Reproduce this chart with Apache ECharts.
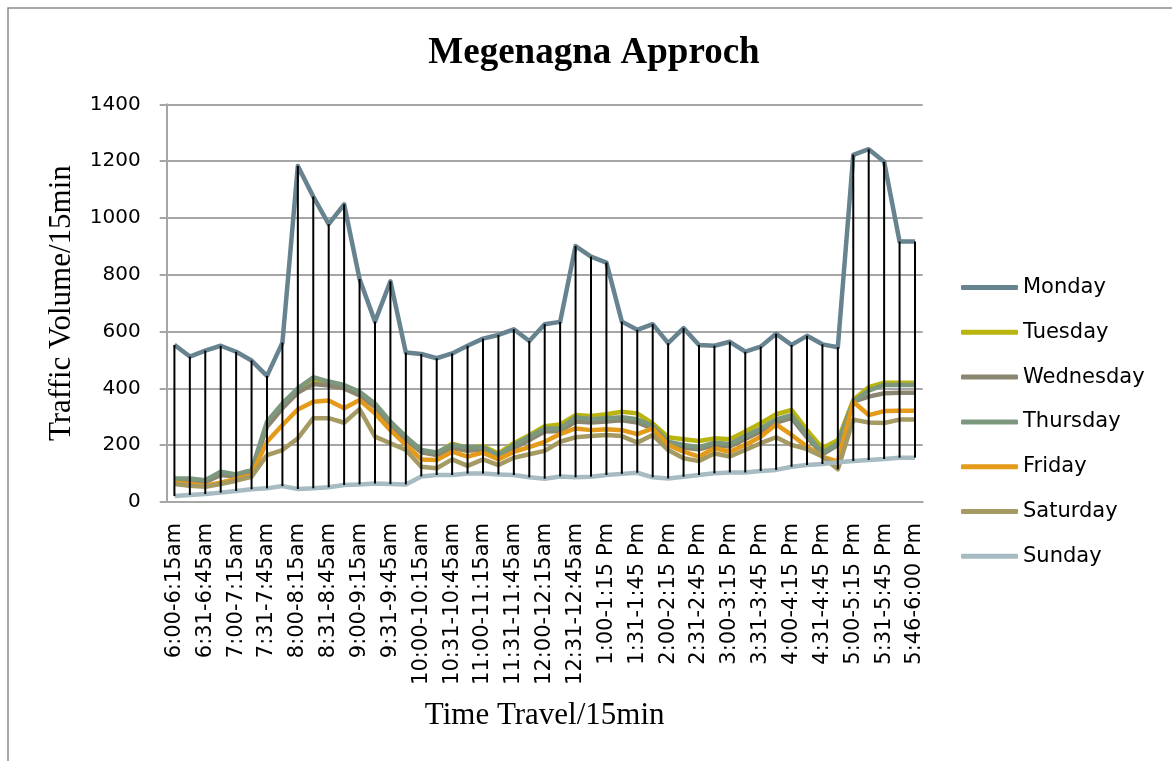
<!DOCTYPE html>
<html>
<head>
<meta charset="utf-8">
<title>Megenagna Approch</title>
<script src="https://cdn.jsdelivr.net/npm/echarts@6/dist/echarts.min.js"></script>
<style>
    html, body { margin: 0; padding: 0; background: #fff; }
    #chart { width: 1172px; height: 761px; }
</style>
</head>
<body>
<div id="chart"></div>
<script>
// 15 min slots, 6:00am - 6:00pm (49 rows as in the source table)
let times = [
    "6:00-6:15am","6:16-6:30am","6:31-6:45am","6:46-7:00am",
    "7:00-7:15am","7:16-7:30am","7:31-7:45am","7:46-8:00am",
    "8:00-8:15am","8:16-8:30am","8:31-8:45am","8:46-9:00am",
    "9:00-9:15am","9:16-9:30am","9:31-9:45am","9:46-10:00am",
    "10:00-10:15am","10:16-10:30am","10:31-10:45am","10:46-11:00am",
    "11:00-11:15am","11:16-11:30am","11:31-11:45am","11:46-12:00am",
    "12:00-12:15am","12:16-12:30am","12:31-12:45am","12:46-1:00 Pm",
    "1:00-1:15 Pm","1:16-1:30 Pm","1:31-1:45 Pm","1:46-2:00 Pm",
    "2:00-2:15 Pm","2:16-2:30 Pm","2:31-2:45 Pm","2:46-3:00 Pm",
    "3:00-3:15 Pm","3:16-3:30 Pm","3:31-3:45 Pm","3:46-4:00 Pm",
    "4:00-4:15 Pm","4:16-4:30 Pm","4:31-4:45 Pm","4:46-5:00 Pm",
    "5:00-5:15 Pm","5:16-5:30 Pm","5:31-5:45 Pm","5:46-6:00 Pm",
    "5:46-6:00 Pm"
];
let monday = [553,512,533,550,529,498,444,561,1183,1075,978,1048,785,635,777,526,
    521,506,523,550,575,588,608,567,626,634,901,864,843,635,606,626,
    559,612,553,550,564,529,547,592,553,585,555,545,1222,1242,1198,917,917];
let tuesday = [80,80,75,100,95,110,275,340,395,424,418,405,380,
    340,280,228,178,172,205,190,197,171,207,235,267,
    273,306,303,309,318,312,277,228,221,215,224,221,
    248,277,309,324,253,189,218,359,404,420,420,420];
let wednesday = [75,75,70,95,90,105,265,330,385,415,410,400,375,
    335,272,220,175,165,190,180,185,160,190,218,248,
    250,283,280,283,288,280,258,205,192,185,200,195,
    222,248,280,295,228,168,200,353,371,383,385,385];
let thursday = [83,83,77,107,97,113,283,347,400,439,424,412,388,
    347,283,230,183,174,201,193,193,165,201,230,259,
    259,298,291,295,298,291,268,212,201,193,209,204,
    232,259,291,306,236,174,207,353,392,412,412,412];
let friday = [68,63,57,68,81,95,212,271,326,353,357,330,359,
    312,253,201,150,148,177,160,174,150,177,193,212,
    239,259,253,256,253,239,259,201,177,160,189,177,
    201,230,273,236,195,160,142,353,306,320,321,321];
let saturday = [63,57,54,63,75,89,165,183,224,295,295,279,327,
    230,207,183,124,119,150,127,150,130,156,168,180,
    212,228,232,236,232,209,236,183,154,144,171,160,
    183,207,228,201,186,160,115,290,280,278,290,290];
let sunday = [21,25,28,33,39,45,48,56,46,48,52,60,62,65,63,62,
    90,95,95,100,100,97,95,87,82,90,87,89,95,99,103,87,
    83,89,95,101,104,104,109,113,124,130,134,140,144,148,151,156,156];
let days = ["Monday","Tuesday","Wednesday","Thursday","Friday","Saturday","Sunday"];
let yTicks = [0,200,400,600,800,1000,1200,1400];

let colors = ['#66838f','#bab40e','#8a8670','#7c9980','#e49b1a','#a59a62','#a7bbc3'];
let allSeries = [monday,tuesday,wednesday,thursday,friday,saturday,sunday];

// high-low lines: from the lowest to the highest value of each slot
let hiLo = [];
for (let i = 0; i < times.length; i++) {
    let vals = allSeries.map(s => s[i]);
    hiLo.push([i, Math.min.apply(null, vals), Math.max.apply(null, vals)]);
}

let chart = echarts.init(document.getElementById('chart'));
let series = days.map((d, k) => ({
    name: d,
    type: 'line',
    data: allSeries[k],
    symbol: 'none',
    lineStyle: { width: 4.5, color: colors[k], join: 'round' },
    itemStyle: { color: colors[k] },
    z: 2
}));
series.push({
    name: 'hilo',
    type: 'custom',
    data: hiLo,
    silent: true,
    z: 5,
    encode: { x: 0, y: [1, 2] },
    renderItem: function (params, api) {
        let p1 = api.coord([api.value(0), api.value(1)]);
        let p2 = api.coord([api.value(0), api.value(2)]);
        return {
            type: 'line',
            shape: { x1: p1[0], y1: p1[1], x2: p2[0], y2: p2[1] },
            style: { stroke: '#000', lineWidth: 2 }
        };
    }
});

const option = {
    animation: false,
    color: colors,
    title: {
        text: 'Megenagna Approch',
        left: 589,
        top: 30,
        textAlign: 'center',
        textStyle: { fontFamily: 'Liberation Serif', fontWeight: 'bold', fontSize: 37, color: '#000' }
    },
    graphic: [{
        type: 'rect',
        shape: { x: 8, y: 8, width: 1200, height: 800 },
        style: { fill: 'none', stroke: '#8c8c8c', lineWidth: 1.5 },
        silent: true
    }],
    legend: {
        data: days,
        orient: 'vertical',
        left: 956,
        top: 272,
        icon: 'roundRect',
        itemWidth: 57,
        itemHeight: 5,
        itemGap: 23.8,
        textStyle: { fontFamily: 'DejaVu Sans', fontSize: 21, color: '#000' }
    },
    grid: { left: 166.7, right: 249.3, top: 104.3, bottom: 259 },
    xAxis: {
        type: 'category',
        data: times,
        name: 'Time Travel/15min',
        nameLocation: 'middle',
        nameGap: 198,
        nameTextStyle: { fontFamily: 'Liberation Serif', fontSize: 31, color: '#000' },
        axisLine: { lineStyle: { color: '#a6a6a6', width: 2 } },
        axisTick: { show: false },
        axisLabel: {
            interval: 1,
            rotate: 90,
            margin: 21,
            fontFamily: 'DejaVu Sans',
            fontSize: 21,
            color: '#000'
        }
    },
    yAxis: {
        type: 'value',
        min: 0,
        max: 1400,
        interval: 200,
        name: 'Traffic Volume/15min',
        nameLocation: 'middle',
        nameGap: 89,
        nameTextStyle: { fontFamily: 'Liberation Serif', fontSize: 31, color: '#000' },
        axisLine: { show: true, lineStyle: { color: '#a6a6a6', width: 2 } },
        axisTick: { show: true, length: 7, lineStyle: { color: '#a6a6a6', width: 2 } },
        splitLine: { lineStyle: { color: '#a6a6a6', width: 2 } },
        axisLabel: {
            margin: 26,
            fontFamily: 'DejaVu Sans',
            fontSize: 20,
            color: '#000',
            formatter: v => yTicks.indexOf(v) >= 0 ? String(v) : ''
        }
    },
    series: series
};
chart.setOption(option);
</script>
</body>
</html>
